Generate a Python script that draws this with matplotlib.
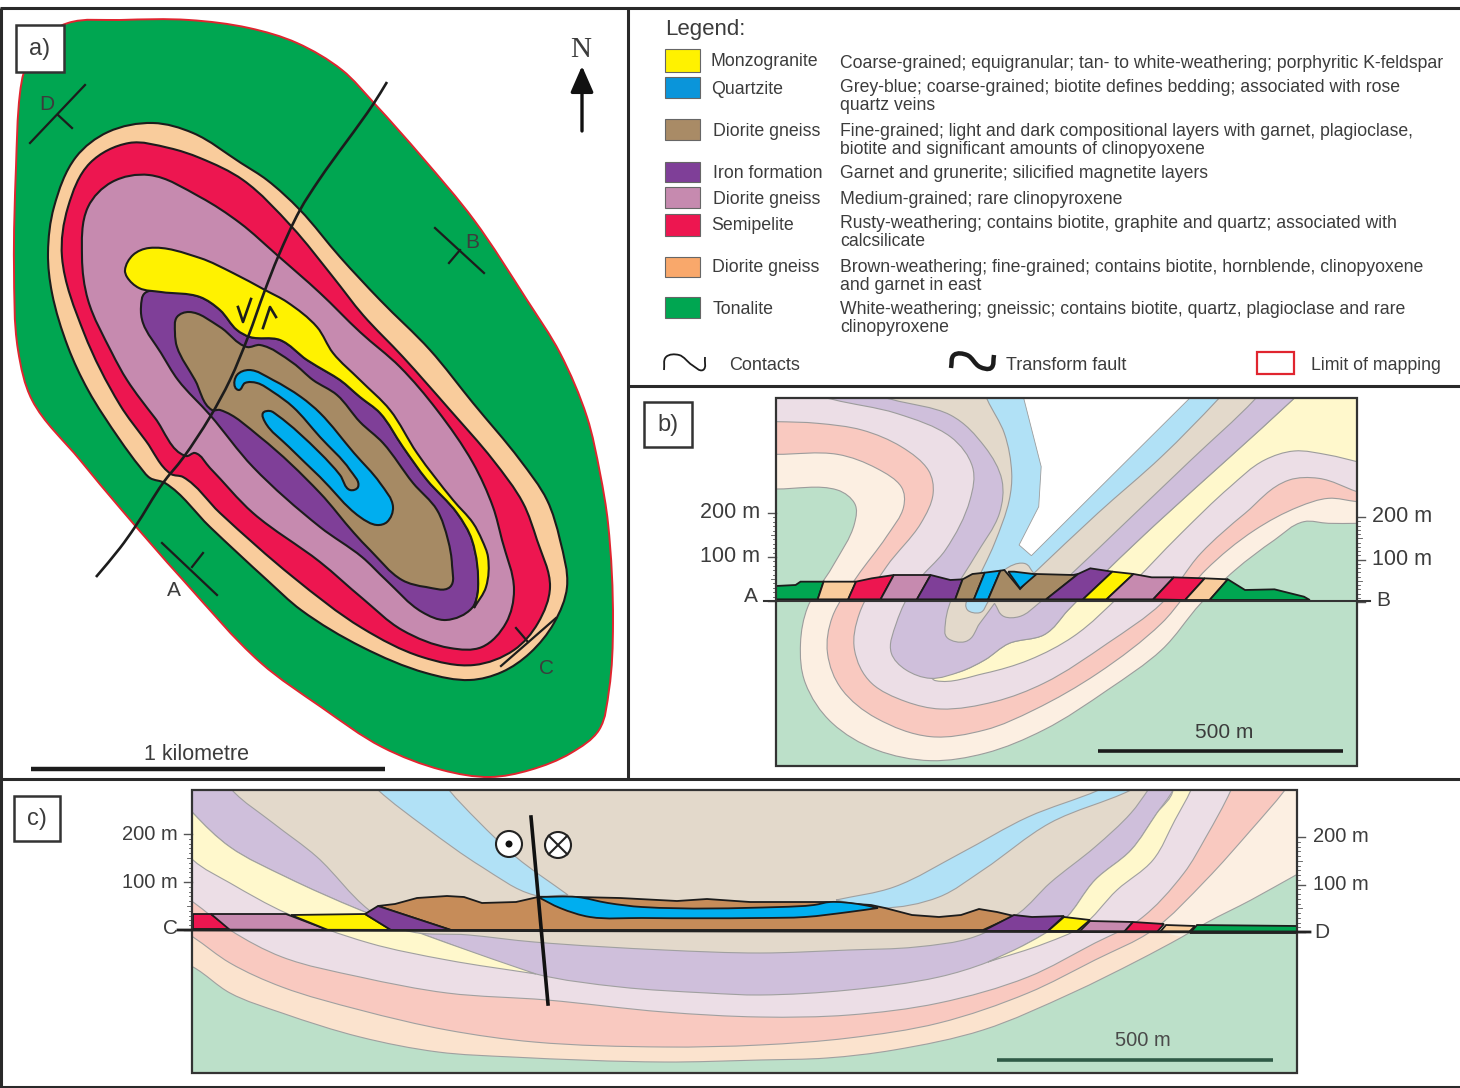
import numpy as np
import matplotlib
matplotlib.use('Agg')
import matplotlib.pyplot as plt
from matplotlib.patches import PathPatch, Polygon, Rectangle, Circle
from matplotlib.path import Path
from matplotlib.transforms import Affine2D

plt.rcParams['font.family'] = ['Liberation Sans', 'DejaVu Sans']

# colours of the units, full strength and faded
C_GREEN, C_PEACH, C_RED, C_MAUVE = '#00A651', '#F9CC9C', '#ED1650', '#C68AAF'
C_YELLOW, C_PURPLE, C_BROWN, C_BLUE = '#FFF200', '#7F3F98', '#A68A64', '#00AEEF'
L_GREEN, L_PEACH, L_PINK, L_LILAC = '#BCE0C9', '#FBE3CE', '#F9C9C0', '#ECDEE6'
L_LAV, L_TAN, L_BLUE, L_YELLOW = '#CFBFDB', '#E3D9CB', '#B1E1F6', '#FFF8CC'
L_CREAM = '#FCEFE2'
TXT = '#3c3c3c'

# ---------- panel a, map outlines (pixels of the figure) ----------
map_limit = [(24,72),(38,42),(68,23),(120,20),(189,20),(249,28),(297,43),(342,70),(374,103),(422,157),(474,220),
             (527,300),(560,353),(587,417),(600,473),(608,523),(613,623),(609,690),(599,730),(571,753),(530,770),
             (490,777),(442,770),(382,747),(321,707),(261,663),(183,580),(120,508),(80,460),(32,400),
             (18,350),(14,267),(16,167),(20,93)]
map_peach = [(48,253),(54,207),(76,157),(108,132),(153,123),(193,133),(241,163),(267,180),(300,210),(340,257),
             (380,300),(430,350),(473,403),(520,460),(547,500),(560,540),(567,587),(554,623),(530,653),(502,672),
             (470,680),(426,673),(362,647),(301,610),(267,580),(210,527),(165,483),(150,478),(140,467),(120,440),
             (88,390),(68,347),(52,293)]
map_red = [(62,257),(68,207),(90,163),(129,143),(169,148),(200,158),(243,180),(292,227),(333,277),
           (363,315),(403,357),(450,410),(493,460),(523,503),(537,540),(550,587),(538,623),(514,650),(474,665),
           (422,657),(362,628),(293,577),(220,513),(183,477),(171,474),(146,441),(120,405),(84,333)]
map_mauve = [(82,257),(88,207),(112,182),(149,175),(200,197),(240,223),(277,255),(320,293),(360,332),(400,367),
             (437,410),(473,463),(493,507),(502,540),(514,590),(506,623),(482,647),(450,648),(402,630),(362,598),
             (320,562),(253,513),(210,468),(195,453),(186,456),(155,418),(127,380),(112,353),(88,300)]
map_purple = [(141,307),(145,293),(169,292),(200,297),(220,310),(237,330),(250,337),(280,340),(307,360),(327,372),
              (340,380),(360,397),(380,413),(403,447),(427,480),(457,513),(472,540),(478,590),(472,608),(446,620),
              (422,612),(386,580),(362,557),(320,527),(253,467),(210,415),(178,380),(161,353),(143,323)]
map_yellow = [(125,270),(133,255),(149,248),(200,258),(233,273),(265,290),(287,302),(317,327),(333,353),(360,380),
              (390,410),(417,453),(453,500),(473,523),(482,540),(488,557),(486,587),(474,608),(478,590),(472,540),
              (457,513),(427,480),(403,447),(380,413),(360,397),(340,380),(327,372),(307,360),(280,340),(250,337),
              (237,330),(220,310),(200,297),(161,292),(139,288),(127,277)]
map_brown = [(175,333),(177,317),(189,312),(220,327),(247,347),(260,345),(293,363),(313,380),(337,395),(360,422),
             (383,443),(413,483),(437,510),(448,540),(452,565),(450,587),(426,587),(402,580),(370,550),(354,533),
             (320,493),(260,437),(220,410),(212,410),(195,380),(177,347)]
map_blue = [(235,387),(237,375),(249,370),(273,380),(301,397),(320,413),(354,453),(380,483),(393,507),(387,522),
            (377,525),(360,517),(320,477),(289,447),(265,422),(263,413),(270,411),(277,415),(320,453),(340,475),
            (350,490),(358,487),(350,470),(320,437),(293,407),(273,392),(257,383),(245,383),(239,390)]
map_fault = [(387,82),(374,103),(319,180),(300,210),(278,257),(265,290),(248,337),(230,380),(210,417),(183,458),
             (163,483),(135,527),(120,548),(96,577)]
section_marks = {'A': [(162,543),(217,595),(192,567),(203,553)],
                 'B': [(435,228),(484,273),(460,250),(449,263)],
                 'C': [(556,618),(501,666),(528,642),(516,628)],
                 'D': [(85,85),(30,143),(58,115),(72,128)]}
section_label_xy = {'A': (174,591), 'B': (472,243), 'C': (547,668), 'D': (47,105)}
shear_left = [(238,307),(243,322),(251,299)]
shear_right = [(263,328),(270,307),(276,317)]

# ---------- legend ----------
legend_names = ['Monzogranite', 'Quartzite', 'Diorite gneiss', 'Iron formation', 'Diorite gneiss',
                'Semipelite', 'Diorite gneiss', 'Tonalite']
legend_colors = [C_YELLOW, '#0A95DA', '#A98B66', C_PURPLE, C_MAUVE, C_RED, '#F9A86B', C_GREEN]
legend_tops = [49, 77, 119, 162, 187, 214, 257, 297]
legend_bots = [72, 98, 140, 182, 208, 236, 277, 318]
legend_name_x = [711, 711, 713, 713, 713, 711, 712, 713]
legend_name_y = [62, 89, 131, 174, 199, 226, 268, 309]
legend_desc = ['Coarse-grained; equigranular; tan- to white-weathering; porphyritic K-feldspar',
               'Grey-blue; coarse-grained; biotite defines bedding; associated with rose',
               'quartz veins',
               'Fine-grained; light and dark compositional layers with garnet, plagioclase,',
               'biotite and significant amounts of clinopyoxene',
               'Garnet and grunerite; silicified magnetite layers',
               'Medium-grained; rare clinopyroxene',
               'Rusty-weathering; contains biotite, graphite and quartz; associated with',
               'calcsilicate',
               'Brown-weathering; fine-grained; contains biotite, hornblende, clinopyoxene',
               'and garnet in east',
               'White-weathering; gneissic; contains biotite, quartz, plagioclase and rare',
               'clinopyroxene']
legend_desc_y = [63, 88, 106, 131, 149, 173, 199, 224, 242, 268, 286, 309, 327]
key_contact = [(664,370),(666,357),(679,355),(692,365),(703,370),(705,357)]
key_fault = [(951,368),(954,355),(967,355),(980,367),(991,368),(994,355)]

# ---------- panel b, section A-B (own units: zoomed picture coordinates) ----------
b_peach = [(60,297),(175,297),(300,300),(335,340),(335,400),(290,530),(240,650),(225,760),(235,880),(290,1000),
           (380,1080),(490,1112),(600,1090),(720,1020),(850,900),(960,780),(1040,640),(1110,540),(1190,450),
           (1250,395),(1300,400),(1358,400),(1480,400),(1480,-200),(60,-200)]
b_pink = [(60,190),(175,193),(300,193),(380,235),(430,290),(435,350),(400,440),(340,560),(290,680),(280,790),
          (310,900),(380,985),(490,1040),(600,1020),(700,960),(830,850),(960,700),(1050,540),(1150,420),
          (1240,350),(1300,325),(1358,335),(1480,350),(1480,-200),(60,-200)]
b_lilac = [(60,95),(175,95),(260,100),(350,120),(430,170),(485,240),(495,310),(470,400),(400,530),(345,670),
           (335,780),(370,880),(440,935),(510,957),(620,935),(720,880),(850,760),(960,640),(1040,490),(1130,370),
           (1220,270),(1280,265),(1358,305),(1480,360),(1480,-200),(60,-200)]
b_yellow = [(1480,260),(1358,215),(1300,195),(1230,183),(1170,210),(1100,290),(1000,430),(880,610),(780,740),
            (690,810),(600,850),(500,872),(490,862),(550,845),(600,810),(650,760),(720,735),(770,660),(850,540),
            (950,400),(1100,200),(1230,25),(1290,-60),(1480,-60)]
b_lavender = [(250,10),(290,28),(420,70),(530,140),(575,230),(570,330),(520,480),(460,580),(420,700),(410,790),
              (440,840),(490,865),(550,845),(600,810),(650,760),(720,735),(770,660),(850,540),(950,400),(1100,200),
              (1230,25),(1290,-60),(250,-60)]
b_tan = [(370,10),(410,28),(530,75),(600,170),(635,270),(630,370),(580,500),(540,600),(520,700),(525,745),(560,755),
         (590,700),(620,640),(640,680),(670,680),(710,640),(785,540),(885,400),(1020,210),(1150,28),(1200,-60),(370,-60)]
b_blue = [(590,-30),(605,28),(640,130),(655,250),(650,330),(620,460),(580,590),(565,660),(590,668),(605,640),
          (640,540),(680,520),(700,550),(830,370),(960,200),(1075,28),(1110,-30)]
b_white = [(680,-30),(680,28),(715,230),(710,350),(670,465),(695,497),(1015,28),(1050,-30)]
# terrain strip along the section: (colour, outline)
b_terrain = [(C_GREEN, [(175,588),(215,585),(225,575),(272,575),(260,628),(175,628)]),
             (C_PEACH, [(272,575),(338,575),(322,628),(260,628)]),
             (C_RED, [(338,575),(370,565),(415,555),(388,628),(322,628)]),
             (C_MAUVE, [(415,555),(490,555),(462,628),(388,628)]),
             (C_PURPLE, [(490,555),(530,570),(555,568),(540,628),(462,628)]),
             (C_BROWN, [(555,568),(575,552),(600,548),(578,628),(540,628)]),
             (C_BLUE, [(600,548),(632,542),(607,628),(578,628)]),
             (C_BROWN, [(632,542),(640,540),(672,597),(698,555),(705,552),(780,555),(790,552),(725,628),(607,628)]),
             (C_BLUE, [(648,545),(660,545),(705,553),(672,595)]),
             (C_PURPLE, [(790,552),(815,535),(860,545),(800,628),(725,628)]),
             (C_YELLOW, [(860,545),(903,552),(848,628),(800,628)]),
             (C_MAUVE, [(903,552),(940,562),(985,562),(943,628),(848,628)]),
             (C_RED, [(985,562),(1048,565),(1008,630),(943,628)]),
             (C_PEACH, [(1048,565),(1095,568),(1058,630),(1008,630)]),
             (C_GREEN, [(1095,568),(1130,600),(1190,598),(1250,620),(1262,630),(1058,630)])]

# ---------- panel c, section C-D (pixels of the figure) ----------
c_green = [(100,930),(193,967),(230,993),(282,1013),(360,1037),(438,1052),(512,1057),(664,1062),(760,1060),(827,1058),
           (894,1050),(983,1030),(1072,993),(1139,960),(1182,937),(1206,923),(1251,900),(1296,875),(1400,820),
           (1400,1200),(100,1200)]
c_cream = [(1153,930),(1206,880),(1251,830),(1285,790),(1297,790),(1297,875),(1251,900),(1206,923),(1182,937)]
c_pink = [(100,880),(193,937),(230,963),(282,987),(360,1010),(447,1030),(534,1042),(664,1047),(760,1045),(849,1038),
          (939,1023),(1028,993),(1095,960),(1153,930),(1206,880),(1251,830),(1285,790),(1320,740),(100,740)]
c_lilac = [(100,840),(193,902),(230,930),(282,957),(360,977),(447,993),(547,1000),(664,1012),(760,1017),(849,1015),
           (939,1003),(1028,977),(1095,943),(1139,920),(1184,873),(1206,837),(1231,790),(1250,740),(100,740)]
c_yellow = [(120,765),(193,860),(230,883),(286,913),(369,943),(447,960),(536,974),(447,943),(360,910),(286,877),
            (230,847),(193,813),(150,760)]
c_yellow_r = [(988,962),(1046,943),(1081,927),(1117,890),(1153,860),(1175,820),(1191,790),(1210,740),(1155,740),(1173,790),
              (1157,813),(1131,850),(1095,880),(1064,920),(1028,943)]
c_lavender = [(150,760),(193,813),(230,847),(286,877),(360,910),(447,943),(536,974),(620,987),(707,993),(760,995),(849,990),
              (939,977),(988,962),(1028,943),(1064,920),(1095,880),(1131,850),(1157,813),(1173,790),(1190,740),(150,740)]
c_tan = [(205,750),(232,790),(273,823),(317,857),(369,910),(404,930),(469,935),(534,942),(664,950),(760,953),(849,950),
         (916,947),(974,937),(1019,913),(1050,883),(1095,847),(1131,813),(1148,790),(1180,740),(205,740)]
c_blue_l = [(340,750),(378,790),(425,827),(482,867),(534,895),(568,895),(516,857),(477,820),(449,790),(420,750)]
c_blue_r = [(836,900),(894,887),(961,853),(1028,817),(1099,790),(1180,750),(1200,750),(1131,790),(1050,823),(983,870),
            (939,897),(881,908)]
c_brown = [(378,906),(395,904),(417,898),(447,896),(464,897),(482,903),(516,902),(538,897),(577,897),(620,898),(677,901),
           (707,899),(750,902),(805,902),(827,902),(871,905),(885,908),(912,915),(939,917),(961,915),(979,909),(997,912),
           (1014,916),(983,930),(451,930)]
c_blue_thick = [(538,897),(577,897),(608,903),(642,907),(780,907),(814,905),(830,902),(858,904),(878,908),(849,912),
                (805,917),(760,918),(642,918),(590,917),(560,908)]
c_terrain = [(C_RED, [(193,914),(211,914),(230,929),(193,929)]),
             (C_MAUVE, [(211,914),(286,914),(328,930),(230,930)]),
             (C_YELLOW, [(291,915),(365,914),(391,930),(328,930)]),
             (C_PURPLE, [(365,914),(378,906),(451,930),(391,930)]),
             (C_PURPLE, [(983,931),(1014,915),(1032,917),(1064,916),(1048,931)]),
             (C_YELLOW, [(1064,917),(1090,920),(1077,931),(1048,931)]),
             (C_MAUVE, [(1090,921),(1133,922),(1124,932),(1079,932)]),
             (C_RED, [(1133,922),(1164,924),(1157,932),(1124,932)]),
             (C_PEACH, [(1166,925),(1195,926),(1189,932),(1160,932)]),
             (C_GREEN, [(1197,925),(1297,926),(1297,933),(1190,933)])]

# elevation rulers
ruler_elev = np.arange(0, 210, 10)
ruler_labels = ['200 m', '100 m']


def smooth(pts, closed=True):
    # bezier pieces through the read points; a sharp turn stays a corner
    pts = np.array(pts, dtype=float)
    n = len(pts)
    out_h, in_h = np.zeros_like(pts), np.zeros_like(pts)
    for i in range(n):
        if closed:
            a, b = pts[i - 1], pts[(i + 1) % n]
        else:
            a, b = pts[max(i - 1, 0)], pts[min(i + 1, n - 1)]
        p = pts[i]
        l1, l2 = np.hypot(*(p - a)), np.hypot(*(b - p))
        u1 = (p - a) / l1 if l1 else (b - p) / l2
        u2 = (b - p) / l2 if l2 else u1
        if np.dot(u1, u2) < -0.3:
            t1, t2 = u1, u2
        else:
            t1 = t2 = (u1 + u2) / np.hypot(*(u1 + u2))
        out_h[i] = p + t2 * l2 / 3
        in_h[i] = p - t1 * l1 / 3
    verts = [pts[0]]
    codes = [Path.MOVETO]
    for i in range(n if closed else n - 1):
        j = (i + 1) % n
        verts += [out_h[i], in_h[j], pts[j]]
        codes += [Path.CURVE4] * 3
    return Path(verts, codes)


def blob(ax, pts, color, ec='#1c1c1c', lw=1.5, clip=None, tr=None, z=2):
    p = PathPatch(smooth(pts), fc=color, ec=ec, lw=lw, zorder=z, transform=tr if tr else ax.transData)
    ax.add_patch(p)
    if clip is not None:
        p.set_clip_path(clip)
    return p


def curve(ax, pts, color='#1c1c1c', lw=1.5, z=6):
    ax.add_patch(PathPatch(smooth(pts, closed=False), fc='none', ec=color, lw=lw, zorder=z))


def ruler(ax, x, y0, y200, side, lab_x, lab_ha, fs):
    k = (y0 - y200) / 200
    for e in ruler_elev:
        length = 8 if e % 100 == 0 else (5 if e % 50 == 0 else 3)
        xs = [x, x + side * length]
        ax.plot(xs, [y0 - e * k] * 2, color='#555555', lw=1.0 if e % 100 == 0 else 0.6, zorder=3)
    ax.plot([x, x], [y0, y200], color='#555555', lw=0.6, zorder=3)
    for lab, e in zip(ruler_labels, [200, 100]):
        ax.text(lab_x, y0 - e * k, lab, ha=lab_ha, va='center', fontsize=fs, color=TXT, zorder=8)


fig = plt.figure(figsize=(14.6, 10.88), dpi=100)
ax = fig.add_axes([0, 0, 1, 1])
ax.set_xlim(0, 1460)
ax.set_ylim(1088, 0)
ax.axis('off')

# ---------- panel a ----------
blob(ax, map_limit, C_GREEN, ec='#E0252F', lw=1.4)
for pts, col in [(map_peach, C_PEACH), (map_red, C_RED), (map_mauve, C_MAUVE), (map_purple, C_PURPLE),
                 (map_yellow, C_YELLOW), (map_brown, C_BROWN), (map_blue, C_BLUE)]:
    blob(ax, pts, col)
curve(ax, map_fault, lw=1.9)
for k, m in section_marks.items():
    ax.plot([m[0][0], m[1][0]], [m[0][1], m[1][1]], color='#1c1c1c', lw=1.6, zorder=6)
    ax.plot([m[2][0], m[3][0]], [m[2][1], m[3][1]], color='#1c1c1c', lw=1.6, zorder=6)
    ax.text(*section_label_xy[k], k, ha='center', va='center', fontsize=15, color=TXT, zorder=7)
# shear sense arrows beside the fault
for arrow in (shear_left, shear_right):
    ax.plot([p[0] for p in arrow], [p[1] for p in arrow], color='#1c1c1c', lw=1.9, zorder=6)
ax.text(581, 50, 'N', family=['Liberation Serif'], ha='center', va='center', fontsize=21, color=TXT)
ax.annotate('', xy=(582, 66), xytext=(582, 131),
            arrowprops=dict(arrowstyle='-|>,head_width=0.7,head_length=1.6', color='#111111', lw=2.4, shrinkA=0, shrinkB=0))
ax.plot([31, 385], [769, 769], color='#1c1c1c', lw=3.2, solid_capstyle='butt', zorder=6)
ax.text(197, 754, '1 kilometre', ha='center', va='center', fontsize=15.5, color=TXT)

# ---------- legend ----------
ax.text(665, 29, 'Legend:', ha='left', va='center', fontsize=16, color=TXT)
for name, col, t, b, nx, ny in zip(legend_names, legend_colors, legend_tops, legend_bots, legend_name_x, legend_name_y):
    ax.add_patch(Rectangle((665, t), 35, b - t, fc=col, ec='#666666', lw=0.8))
    ax.text(nx, ny, name, ha='left', va='center', fontsize=12.8, color=TXT)
for line, y in zip(legend_desc, legend_desc_y):
    ax.text(840, y, line, ha='left', va='center', fontsize=12.7, color=TXT)
curve(ax, key_contact, lw=1.3)
curve(ax, key_fault, lw=3.2)
ax.text(729, 365, 'Contacts', ha='left', va='center', fontsize=13, color=TXT)
ax.text(1006, 365, 'Transform fault', ha='left', va='center', fontsize=13, color=TXT)
ax.add_patch(Rectangle((1257, 352), 37, 22, fc='white', ec='#E0252F', lw=1.6))
ax.text(1311, 365, 'Limit of mapping', ha='left', va='center', fontsize=12.8, color=TXT)

# ---------- panel b ----------
tr_b = Affine2D().scale(1 / 2.036, 1 / 3).translate(690, 390) + ax.transData
rect_b = Rectangle((776, 398), 581, 368, fc=L_GREEN, ec='none', zorder=1)
ax.add_patch(rect_b)
for pts, col in [(b_peach, L_CREAM), (b_pink, L_PINK), (b_lilac, L_LILAC), (b_yellow, L_YELLOW),
                 (b_lavender, L_LAV), (b_tan, L_TAN), (b_blue, L_BLUE)]:
    blob(ax, pts, col, ec='#9c9c9c', lw=0.8, clip=rect_b, tr=tr_b)
white_v = Polygon(b_white, closed=True, fc='white', ec='#9c9c9c', lw=0.6, zorder=2, transform=tr_b)
ax.add_patch(white_v)
white_v.set_clip_path(rect_b)
for col, pts in b_terrain:
    ax.add_patch(Polygon(pts, closed=True, fc=col, ec='#1c1c1c', lw=1.3, zorder=4, transform=tr_b))
ax.add_patch(Rectangle((776, 398), 581, 368, fc='none', ec='#333333', lw=1.6, zorder=5))
ax.plot([764, 1370], [601, 601], color='#333333', lw=1.5, zorder=5)
ax.text(751, 597, 'A', ha='center', va='center', fontsize=15, color=TXT)
ax.text(1383, 600, 'B', ha='center', va='center', fontsize=15, color=TXT)
ruler(ax, 776, 601, 513, -1, 760, 'right', 15.5)
ruler(ax, 1357, 602, 517, 1, 1372, 'left', 15.5)
ax.plot([1098, 1343], [751, 751], color='#1c1c1c', lw=2.6, solid_capstyle='butt', zorder=6)
ax.text(1224, 732, '500 m', ha='center', va='center', fontsize=15, color=TXT, zorder=6)

# ---------- panel c ----------
rect_c = Rectangle((192, 790), 1105, 283, fc=L_PEACH, ec='none', zorder=1)
ax.add_patch(rect_c)
ax.add_patch(Polygon(c_cream, closed=True, fc=L_CREAM, ec='none', zorder=1.5))
for pts, col in [(c_green, L_GREEN), (c_pink, L_PINK), (c_lilac, L_LILAC), (c_lavender, L_LAV),
                 (c_yellow, L_YELLOW), (c_yellow_r, L_YELLOW), (c_tan, L_TAN), (c_blue_l, L_BLUE), (c_blue_r, L_BLUE)]:
    blob(ax, pts, col, ec='#a0a0a0', lw=0.8, clip=rect_c)
ax.add_patch(Polygon(c_brown, closed=True, fc='#C68C59', ec='#1c1c1c', lw=1.3, zorder=4))
ax.add_patch(PathPatch(smooth(c_blue_thick), fc=C_BLUE, ec='#1c1c1c', lw=1.3, zorder=4))
for col, pts in c_terrain:
    ax.add_patch(Polygon(pts, closed=True, fc=col, ec='#1c1c1c', lw=1.3, zorder=4))
ax.add_patch(Rectangle((192, 790), 1105, 283, fc='none', ec='#333333', lw=1.6, zorder=5))
ax.plot([178, 1310], [930, 932], color='#222222', lw=2.0, zorder=5)
ax.text(170, 929, 'C', ha='center', va='center', fontsize=15, color=TXT)
ax.text(1322, 932, 'D', ha='center', va='center', fontsize=15, color=TXT)
ruler(ax, 192, 930, 834, -1, 178, 'right', 14.5)
ruler(ax, 1297, 932, 837, 1, 1313, 'left', 14.5)
ax.plot([531, 548], [817, 1004], color='#111111', lw=2.6, zorder=6)
ax.add_patch(Circle((509, 844), 13, fc='white', ec='#222222', lw=1.5, zorder=6))
ax.add_patch(Circle((509, 844), 3.5, fc='#111111', ec='none', zorder=7))
ax.add_patch(Circle((558, 845), 13, fc='white', ec='#222222', lw=1.5, zorder=6))
d = 13 * np.cos(np.pi / 4)
ax.plot([558 - d, 558 + d], [845 - d, 845 + d], color='#222222', lw=1.5, zorder=7)
ax.plot([558 - d, 558 + d], [845 + d, 845 - d], color='#222222', lw=1.5, zorder=7)
ax.plot([997, 1273], [1060, 1060], color='#2F5A46', lw=2.6, solid_capstyle='butt', zorder=6)
ax.text(1143, 1041, '500 m', ha='center', va='center', fontsize=14.5, color='#4a4a4a', zorder=6)

# ---------- frames and panel letters ----------
frame_color = '#2a2a2a'
for xs, ys in [([0, 1460], [8, 8]), ([1, 1], [8, 1088]), ([628, 628], [8, 778]), ([0, 1460], [779, 779]),
               ([628, 1460], [386, 386]), ([0, 1460], [1087, 1087])]:
    ax.plot(xs, ys, color=frame_color, lw=2.2, zorder=9, solid_capstyle='butt')
for (x0, y0, x1, y1), lab in zip([(16, 25, 64, 72), (644, 402, 692, 447), (14, 796, 60, 841)], ['a)', 'b)', 'c)']):
    ax.add_patch(Rectangle((x0, y0), x1 - x0, y1 - y0, fc='white', ec='#333333', lw=1.8, zorder=9))
    ax.text((x0 + x1) / 2, (y0 + y1) / 2, lab, ha='center', va='center', fontsize=17, color=TXT, zorder=10)

fig.savefig('out.png', dpi=100)
